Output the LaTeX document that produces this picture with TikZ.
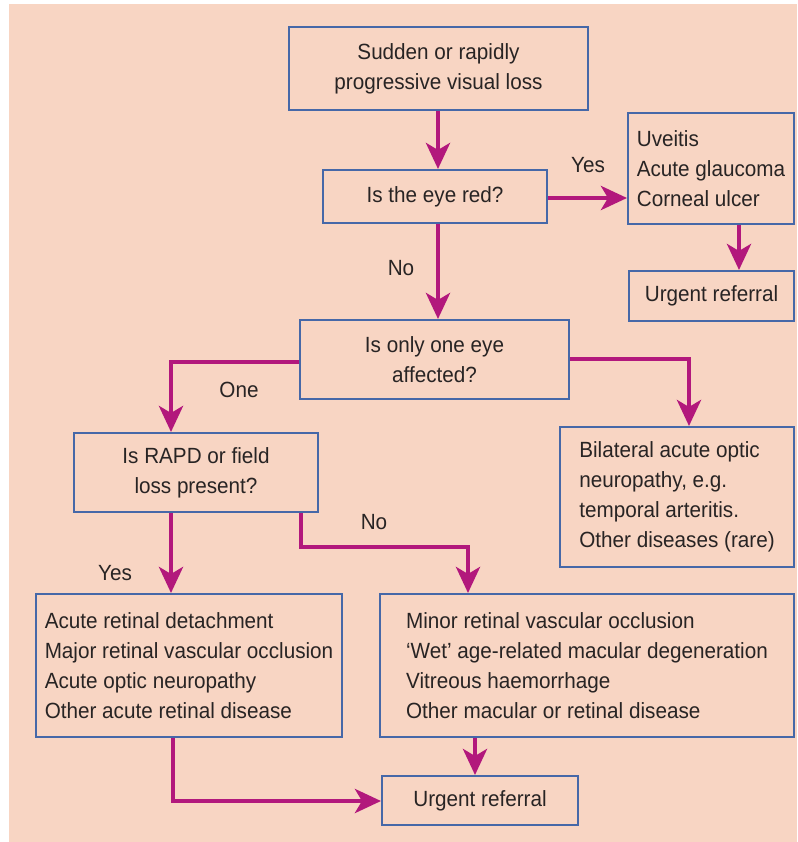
\documentclass[tikz,border=0pt]{standalone}
\usepackage{fontspec}
\setmainfont[FakeStretch=0.94]{Liberation Sans}
\usetikzlibrary{arrows.meta}
\definecolor{bgpeach}{RGB}{248,213,195}
\definecolor{boxblue}{RGB}{70,104,168}
\definecolor{arrmag}{RGB}{178,24,124}
\definecolor{txtgray}{RGB}{40,36,36}
\begin{document}
\begin{tikzpicture}[x=1pt,y=-1pt,
  box/.style={draw=boxblue, line width=2pt, fill=bgpeach, text=txtgray,
    font=\fontsize{22}{30}\selectfont, inner sep=0pt},
  cbox/.style={box, align=center},
  lbox/.style={box, align=left},
  conn/.style={draw=arrmag, line width=4.5pt,
    -{Stealth[length=26pt,width=24pt,inset=7pt]}},
  lab/.style={text=txtgray, font=\fontsize{22}{26}\selectfont}
]
\useasboundingbox (0,0) rectangle (797,842);
\fill[bgpeach] (9,4) rectangle (797,842);

% boxes
\node[cbox, minimum width=299pt, minimum height=83pt] (start) at (438.5,68.5)
  {Sudden or rapidly\\progressive visual loss};
\node[cbox, minimum width=224pt, minimum height=53pt] (red) at (435,196.5)
  {Is the eye red?};
\node[lbox, minimum width=166pt, minimum height=111pt] (uv) at (711,168.5)
  {Uveitis\\Acute glaucoma\\Corneal ulcer};
\node[cbox, minimum width=165pt, minimum height=50pt] (ur1) at (711.5,296)
  {Urgent referral};
\node[cbox, minimum width=269pt, minimum height=79pt] (one) at (434.5,359.5)
  {Is only one eye\\affected?};
\node[cbox, minimum width=244pt, minimum height=79pt] (rapd) at (196,472.5)
  {Is RAPD or field\\loss present?};
\node[lbox, minimum width=234pt, minimum height=140pt] (bil) at (677,497)
  {Bilateral acute optic\\neuropathy, e.g.\\temporal arteritis.\\Other diseases (rare)};
\node[lbox, minimum width=306pt, minimum height=143pt] (ll) at (189,665.5)
  {Acute retinal detachment\\Major retinal vascular occlusion\\Acute optic neuropathy\\Other acute retinal disease};
\node[lbox, minimum width=414pt, minimum height=143pt] (rl) at (587,665.5)
  {Minor retinal vascular occlusion\\`Wet' age-related macular degeneration\\Vitreous haemorrhage\\Other macular or retinal disease};
\node[cbox, minimum width=196pt, minimum height=49pt] (ur2) at (480,800.5)
  {Urgent referral};

% connectors
\draw[conn] (start.south -| 438,0) -- (red.north -| 438,0);
\draw[conn] (red.east |- 0,198) -- (uv.west |- 0,198);
\draw[conn] (uv.south -| 739,0) -- (ur1.north -| 739,0);
\draw[conn] (red.south -| 438,0) -- (one.north -| 438,0);
\draw[conn] (one.west |- 0,362) -| (rapd.north -| 171,0);
\draw[conn] (one.east |- 0,359) -| (bil.north -| 689,0);
\draw[conn] (rapd.south -| 171,0) -- (ll.north -| 171,0);
\draw[conn] (rapd.south -| 301,0) -- (301,547) -| (rl.north -| 468,0);
\draw[conn] (rl.south -| 475,0) -- (ur2.north -| 475,0);
\draw[conn] (ll.south -| 173,0) |- (ur2.west |- 0,801);

% labels
\node[lab] (lyes1) at (588,165) {Yes};
\node[lab] (lno1) at (401,268) {No};
\node[lab] (lone) at (239,390) {One};
\node[lab] (lno2) at (374,522) {No};
\node[lab] (lyes2) at (115,573) {Yes};
\end{tikzpicture}
\end{document}
